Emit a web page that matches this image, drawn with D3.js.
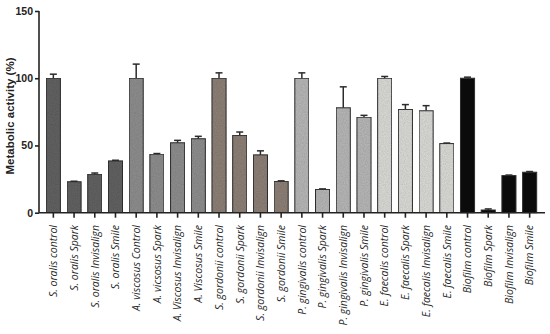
<!DOCTYPE html>
<html><head><meta charset="utf-8">
<script src="https://cdn.jsdelivr.net/npm/d3@7"></script>
<style>body{margin:0;background:#fff}svg{display:block}</style>
</head><body>
<svg id="c" width="550" height="334"></svg>
<script>
const categories = ["S. oralis control","S. oralis Spark","S. oralis Invisalign","S. oralis Smile",
"A.  viscosus Control","A.   vicsosus Spark","A. Viscosus Invisalign","A.   Viscosus Smile",
"S. gordonii control","S. gordonii Spark","S. gordonii Invisalign","S. gordonii Smile",
"P. gingivalis control","P. gingivalis Spark","P. gingivalis Invisalign","P. gingivalis Smile",
"E. faecalis control","E. faecalis Spark","E. faecalis Invisalign","E. faecalis Smile",
"Biofilm control","Biofilm Spark","Biofilm Invisalign","Biofilm Smile"];
const values = [100,23,28.6,38.5, 100,43.5,52,55, 100,57.5,43,23.3, 100,17.3,78,71, 100,76.8,75.8,51.4, 100,2,27.6,30.1];
const errors = [3,0.4,0.9,0.5, 10.5,0.5,1.8,1.8, 4,2.5,3,0.4, 4,0.4,15.6,1.4, 1.3,3.6,3.8,0.4, 0.8,0.8,0.4,0.5];
const groups = [0,0,0,0,1,1,1,1,2,2,2,2,3,3,3,3,4,4,4,4,5,5,5,5];
const groupColors = ["#616161","#8b8b8b","#8a7e74","#b3b3b3","#d6d6d2","#0b0b0b"];
const yTicks = [0,50,100,150];

const svg = d3.select("#c");
const x = d3.scaleBand().domain(categories).range([43,540]).paddingInner(0.32).paddingOuter(0.16);
const y = d3.scaleLinear().domain([0,150]).range([212.7,11]);

// texture filter
const defs = svg.append("defs");
const f = defs.append("filter").attr("id","tex").attr("x",0).attr("y",0).attr("width",1).attr("height",1);
f.append("feTurbulence").attr("type","fractalNoise").attr("baseFrequency",0.9).attr("numOctaves",2).attr("seed",3).attr("result","n");
f.append("feColorMatrix").attr("in","n").attr("type","matrix")
 .attr("values","0 0 0 0 0  0 0 0 0 0  0 0 0 0 0  0 0 0 0.35 -0.1").attr("result","a");
f.append("feComposite").attr("in","a").attr("in2","SourceGraphic").attr("operator","in").attr("result","b");
f.append("feMerge").call(m=>{m.append("feMergeNode").attr("in","SourceGraphic");m.append("feMergeNode").attr("in","b");});

const data = categories.map((c,i)=>({c,v:values[i],e:errors[i],g:groups[i]}));

// error bars
const eb = svg.append("g").attr("stroke","#2b2b2b").attr("stroke-width",1.5).attr("fill","none");
data.forEach(d=>{
  const cx = x(d.c)+x.bandwidth()/2;
  eb.append("line").attr("x1",cx).attr("x2",cx).attr("y1",y(d.v)).attr("y2",y(d.v+d.e));
  eb.append("line").attr("x1",cx-3.5).attr("x2",cx+3.5).attr("y1",y(d.v+d.e)).attr("y2",y(d.v+d.e));
});

svg.append("g").selectAll("rect").data(data).join("rect")
  .attr("x",d=>x(d.c)).attr("width",x.bandwidth())
  .attr("y",d=>y(d.v)).attr("height",d=>y(0)-y(d.v))
  .attr("fill",d=>groupColors[d.g])
  .attr("filter",d=>d.g===5?null:"url(#tex)")
  .attr("stroke","#2e2e2e").attr("stroke-width",1);

// y axis
const ya = svg.append("g").attr("transform","translate(39,0)")
  .call(d3.axisLeft(y).tickValues(yTicks).tickSize(4).tickPadding(2));
ya.select(".domain").attr("stroke","#222").attr("stroke-width",1.6).attr("d",`M0,${y(150)}V${y(0)}`);
ya.selectAll(".tick line").attr("stroke","#222").attr("stroke-width",1.6);
ya.selectAll(".tick text").attr("font-family","Liberation Sans Narrow, Liberation Sans, Arial").attr("font-size",10.5).attr("font-weight","bold").attr("fill","#222");

// x axis
svg.append("line").attr("x1",39).attr("x2",545).attr("y1",y(0)).attr("y2",y(0)).attr("stroke","#222").attr("stroke-width",1.6);
const xa = svg.append("g");
data.forEach(d=>{
  const cx = x(d.c)+x.bandwidth()/2;
  xa.append("line").attr("x1",cx).attr("x2",cx).attr("y1",y(0)).attr("y2",y(0)+5).attr("stroke","#222").attr("stroke-width",1.6);
  xa.append("text").attr("transform",`translate(${cx+3.8},225) rotate(-90)`)
    .attr("text-anchor","end").attr("font-family","Open Sans, Noto Sans, sans-serif")
    .attr("font-style","italic").attr("font-size",10.5).attr("fill","#2a2a2a").text(d.c);
});

svg.append("text").attr("transform","translate(13.5,116) rotate(-90)").attr("text-anchor","middle")
  .attr("font-family","Liberation Sans, Arial").attr("font-weight","bold").attr("font-size",11.5).attr("fill","#222")
  .text("Metabolic activity (%)");
</script>
</body></html>
